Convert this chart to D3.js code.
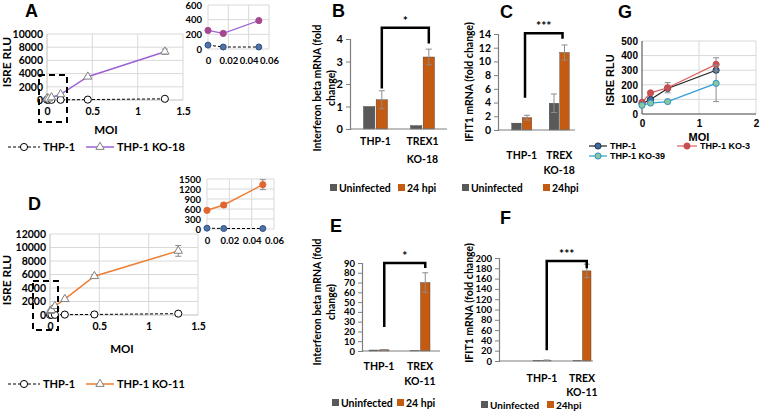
<!DOCTYPE html>
<html><head><meta charset="utf-8">
<script src="https://cdn.jsdelivr.net/npm/d3@7"></script>
<style>body{margin:0;background:#fff}svg{display:block}</style>
</head><body><svg id="c" width="760" height="411"></svg>
<script>
// ---------------- DATA ----------------
const moi = [0, 0.015, 0.05, 0.15, 0.45, 1.3];
const moiInset = [0, 0.015, 0.05];
const xTicksMain = [0, 0.5, 1, 1.5];
const xTicksInset = [0, 0.02, 0.04, 0.06];

// Panel A
const aTHP1 = [50, 25, 25, 30, 60, 180];
const aKO18 = [250, 215, 390, 870, 3530, 7320];
const aKO18Err = [0, 0, 0, 0, 150, 400];
const aInsetTHP1 = [53, 27, 27];
const aInsetKO18 = [253, 213, 387];
const aYTicks = [0, 2000, 4000, 6000, 8000, 10000];
const aInsetYTicks = [0, 200, 400, 600];

// Panel D
const dTHP1 = [30, 20, 20, 60, 80, 200];
const dKO11 = [560, 720, 1330, 2350, 5750, 9500];
const dKO11Err = [0, 60, 150, 0, 250, 800];
const dInsetTHP1 = [25, 15, 15];
const dInsetKO11 = [560, 720, 1330];
const dInsetKO11Err = [0, 60, 150];
const dYTicks = [0, 2000, 4000, 6000, 8000, 10000, 12000];
const dInsetYTicks = [0, 300, 600, 900, 1200, 1500];

// Bar panels
const barKeys = ["Uninfected", "24 hpi"];
const barKeysC = ["Uninfected", "24hpi"];
const groups18 = ["THP-1", "TREX1 KO-18"];
const groups18C = ["THP-1", "TREX KO-18"];
const groups11 = ["THP-1", "TREX KO-11"];
const bVals = [[1.0, 1.3], [0.15, 3.2]];
const bErrs = [[0, 0.4], [0, 0.35]];
const cVals = [[1.0, 1.8], [3.9, 11.3]];
const cErrs = [[0, 0.35], [1.35, 1.1]];
const eVals = [[1.0, 1.2], [0.3, 70]];
const eErrs = [[0, 0.3], [0, 10]];
const fVals = [[1.0, 1.5], [0.8, 175]];
const fErrs = [[0, 0.3], [0, 13]];
const bTicks = [0, 1, 2, 3, 4];
const cTicks = [0, 2, 4, 6, 8, 10, 12, 14];
const eTicks = [0, 10, 20, 30, 40, 50, 60, 70, 80, 90];
const fTicks = [0, 20, 40, 60, 80, 100, 120, 140, 160, 180, 200];

// Panel G
const moiG = [0, 0.15, 0.45, 1.3];
const gTHP1 = [70, 100, 175, 300];
const gKO3 = [80, 145, 180, 340];
const gKO3Err = [0, 0, 35, 45];
const gKO39 = [60, 75, 85, 210];
const gKO39Err = [0, 0, 0, 125];
const gYTicks = [0, 100, 200, 300, 400, 500];
const gXTicks = [0, 1, 2];

// ---------------- DRAWING ----------------
const svg = d3.select("#c");
const FONT = "Lato, 'Liberation Sans', Arial, sans-serif";
const ARIAL = "'Liberation Sans', Arial, sans-serif";
const GRAY = "#595959", ORANGE = "#c55a11";

function txt(g, x, y, s, o = {}) {
  return g.append("text").attr("x", x).attr("y", y).text(s)
    .attr("font-size", o.size || 11).attr("text-anchor", o.anchor || "start")
    .attr("font-weight", o.weight || "bold").attr("fill", o.fill || "#000")
    .attr("font-family", o.family || FONT);
}
function vtxt(g, x, cy, s, o = {}) {
  return g.append("text").attr("transform", `translate(${x},${cy}) rotate(-90)`)
    .attr("text-anchor", "middle").attr("dy", "0.35em").text(s)
    .attr("font-size", o.size || 11).attr("font-weight", o.weight || "bold")
    .attr("font-family", o.family || FONT).attr("fill", "#000");
}

function lineChart(cfg) {
  const g = svg.append("g");
  const x = d3.scaleLinear().domain(cfg.xd).range(cfg.xr);
  const y = d3.scaleLinear().domain(cfg.yd).range(cfg.yr);
  g.selectAll(null).data(cfg.yticks.filter(t => t > 0)).join("line")
    .attr("x1", cfg.xr[0]).attr("x2", cfg.xr[1]).attr("y1", d => y(d)).attr("y2", d => y(d))
    .attr("stroke", "#d9d9d9").attr("stroke-width", 1);
  g.selectAll(null).data(cfg.xticks.filter(t => t > 0)).join("line")
    .attr("x1", d => x(d)).attr("x2", d => x(d)).attr("y1", cfg.yr[0]).attr("y2", cfg.yr[1])
    .attr("stroke", "#d9d9d9").attr("stroke-width", 1);
  g.append("line").attr("x1", cfg.xr[0]).attr("x2", cfg.xr[0]).attr("y1", cfg.yr[0]).attr("y2", cfg.yr[1])
    .attr("stroke", cfg.axisColor || "#bfbfbf").attr("stroke-width", 1);
  g.append("line").attr("x1", cfg.xr[0]).attr("x2", cfg.xr[1]).attr("y1", cfg.yr[0]).attr("y2", cfg.yr[0])
    .attr("stroke", cfg.axisColor || "#bfbfbf").attr("stroke-width", 1);
  const ya = d3.axisLeft(y).tickValues(cfg.yticks).tickSize(0).tickPadding(cfg.yPad || 4).tickFormat(d3.format("d"));
  const yg = g.append("g").attr("transform", `translate(${cfg.xr[0]},0)`).call(ya);
  yg.select(".domain").remove();
  yg.selectAll("text").attr("font-size", cfg.fs).attr("font-weight", "bold").attr("font-family", cfg.family || FONT).attr("fill", "#000");
  const xa = d3.axisBottom(x).tickValues(cfg.xticks).tickSize(0).tickPadding(cfg.xPad || 6).tickFormat(d => d === 0 ? "0" : d3.format("")(d));
  const xg = g.append("g").attr("transform", `translate(0,${cfg.yr[0]})`).call(xa);
  xg.select(".domain").remove();
  xg.selectAll("text").attr("font-size", cfg.fs).attr("font-weight", "bold").attr("font-family", cfg.family || FONT).attr("fill", "#000");
  for (const s of cfg.series) {
    const pts = s.x.map((xv, i) => ({ x: xv, y: s.y[i], e: s.err ? s.err[i] : 0 }));
    const eb = pts.filter(p => p.e > 0);
    g.selectAll(null).data(eb).join("line")
      .attr("x1", p => x(p.x)).attr("x2", p => x(p.x)).attr("y1", p => y(p.y - p.e)).attr("y2", p => y(p.y + p.e))
      .attr("stroke", "#8c8c8c").attr("stroke-width", 1);
    for (const sg of [-1, 1]) {
      g.selectAll(null).data(eb).join("line")
        .attr("x1", p => x(p.x) - 3).attr("x2", p => x(p.x) + 3).attr("y1", p => y(p.y + sg * p.e)).attr("y2", p => y(p.y + sg * p.e))
        .attr("stroke", "#8c8c8c").attr("stroke-width", 1);
    }
    g.append("path").datum(pts).attr("d", d3.line().x(p => x(p.x)).y(p => y(p.y)))
      .attr("fill", "none").attr("stroke", s.stroke).attr("stroke-width", s.sw || 1.5)
      .attr("stroke-dasharray", s.dash || null);
    g.selectAll(null).data(pts).join("path")
      .attr("transform", p => `translate(${x(p.x)},${y(p.y)})`)
      .attr("d", d3.symbol().type(s.symbol || d3.symbolCircle).size(s.size || 30))
      .attr("fill", s.fill).attr("stroke", s.mstroke).attr("stroke-width", s.msw || 1);
  }
  return { g, x, y };
}

function barChart(cfg) {
  const g = svg.append("g");
  const y = d3.scaleLinear().domain(cfg.yd).range(cfg.yr);
  const x0 = d3.scaleBand().domain(cfg.groups).range(cfg.band);
  const bw = x0.bandwidth();
  const x1 = d3.scaleBand().domain(cfg.keys).range([bw / 2 - cfg.half, bw / 2 + cfg.half]).paddingInner(0.1);
  const data = cfg.groups.map((gr, i) => cfg.keys.map((k, j) => ({ gr, k, j, v: cfg.vals[i][j], e: cfg.errs[i][j] })));
  const flat = data.flat();
  const color = d3.scaleOrdinal().domain(cfg.keys).range([GRAY, ORANGE]);
  const ya = d3.axisLeft(y).tickValues(cfg.ticks).tickSize(4).tickPadding(3).tickFormat(d3.format("d"));
  const yg = g.append("g").attr("transform", `translate(${cfg.axisX},0)`).call(ya);
  yg.select(".domain").attr("stroke", "#7f7f7f").attr("stroke-width", 1.2);
  yg.selectAll(".tick line").attr("stroke", "#7f7f7f");
  yg.selectAll("text").attr("font-size", cfg.fs || 10).attr("font-weight", "bold").attr("font-family", FONT).attr("fill", "#000");
  g.selectAll(null).data(flat).join("rect")
    .attr("x", d => x0(d.gr) + x1(d.k)).attr("width", x1.bandwidth())
    .attr("y", d => y(d.v)).attr("height", d => y(0) - y(d.v))
    .attr("fill", d => color(d.k)).attr("stroke", "#3a3a3a").attr("stroke-width", 0.4);
  g.append("line").attr("x1", cfg.axisX).attr("x2", cfg.axisEnd).attr("y1", y(0)).attr("y2", y(0))
    .attr("stroke", "#7f7f7f").attr("stroke-width", 1.2);
  const cx = d => x0(d.gr) + x1(d.k) + x1.bandwidth() / 2;
  const eb = flat.filter(d => d.e > 0);
  g.selectAll(null).data(eb).join("line").attr("x1", cx).attr("x2", cx)
    .attr("y1", d => y(d.v - d.e)).attr("y2", d => y(d.v + d.e)).attr("stroke", "#8c8c8c").attr("stroke-width", 1);
  for (const sg of [-1, 1]) {
    g.selectAll(null).data(eb).join("line").attr("x1", d => cx(d) - 3).attr("x2", d => cx(d) + 3)
      .attr("y1", d => y(d.v + sg * d.e)).attr("y2", d => y(d.v + sg * d.e)).attr("stroke", "#8c8c8c").attr("stroke-width", 1);
  }
  const lx = cx(data[0][1]) + (cfg.brDx || 0), rx = cx(data[1][1]) + (cfg.brDx || 0);
  const br = cfg.bracket;
  g.append("path").attr("d", `M${lx},${y(br.l)}V${y(br.top)}H${rx}V${y(br.r)}`)
    .attr("fill", "none").attr("stroke", "#000").attr("stroke-width", 2.5);
  txt(g, (lx + rx) / 2, y(br.top) - 3, cfg.stars, { anchor: "middle", size: 12 });
  cfg.groups.forEach(gr => {
    gr.split(" ").forEach((line, i) => txt(g, x0(gr) + bw / 2, cfg.labelY[i] + 4, line, { anchor: "middle", size: 10.5 }));
  });
  cfg.keys.forEach((k, i) => {
    g.append("rect").attr("x", cfg.legendX[i]).attr("y", cfg.legendY - 4).attr("width", 7).attr("height", 7).attr("fill", color(k));
    txt(g, cfg.legendX[i] + 9, cfg.legendY + 4, k, { size: cfg.legFs || 10.5 });
  });
  cfg.ylab.lines.forEach((l, i) => vtxt(g, cfg.ylab.xs[i], cfg.ylab.cy, l, { size: 10.5 }));
  txt(g, cfg.letter[1], cfg.letter[2], cfg.letter[0], { size: 18, family: ARIAL });
}

function dashedBox(x0, y0, x1, y1) {
  svg.append("rect").attr("x", x0).attr("y", y0).attr("width", x1 - x0).attr("height", y1 - y0)
    .attr("fill", "none").attr("stroke", "#000").attr("stroke-width", 2).attr("stroke-dasharray", "6,4");
}

function lineLegend(items, y) {
  const g = svg.append("g");
  items.forEach(it => {
    g.append("line").attr("x1", it.x0).attr("x2", it.x1).attr("y1", y).attr("y2", y)
      .attr("stroke", it.stroke).attr("stroke-width", it.sw || 1.5).attr("stroke-dasharray", it.dash || null);
    g.append("path").attr("transform", `translate(${(it.x0 + it.x1) / 2},${y})`)
      .attr("d", d3.symbol().type(it.symbol || d3.symbolCircle).size(it.size || 30))
      .attr("fill", it.fill).attr("stroke", it.mstroke).attr("stroke-width", 1);
    txt(g, it.x1 + 3, y + (it.fs || 11) * 0.36, it.label, { size: it.fs || 11, family: it.family || FONT });
  });
}

// ----- Panel A -----
txt(svg, 25, 17, "A", { size: 18, family: ARIAL });
lineChart({
  xr: [47, 183], yr: [100, 34], xd: [0, 1.5], yd: [0, 10000], yticks: aYTicks, xticks: xTicksMain, fs: 10.5, xPad: 8,
  series: [
    { x: moi, y: aTHP1, stroke: "#000", sw: 1, dash: "3,2", fill: "#fff", mstroke: "#000", size: 40 },
    { x: moi, y: aKO18, err: aKO18Err, stroke: "#9e61d6", sw: 1.5, fill: "#fff", mstroke: "#808080", symbol: d3.symbolTriangle, size: 30 }
  ]
});
dashedBox(39, 75, 67, 122);
vtxt(svg, 7, 62, "ISRE RLU", { size: 12 });
txt(svg, 106, 134, "MOI", { anchor: "middle", size: 11.5 });
lineLegend([
  { x0: 8, x1: 40, stroke: "#000", sw: 1, dash: "3,2", fill: "#fff", mstroke: "#000", size: 40, label: "THP-1" },
  { x0: 86, x1: 114, stroke: "#9e61d6", fill: "#fff", mstroke: "#808080", symbol: d3.symbolTriangle, label: "THP-1 KO-18" }
], 147);
lineChart({
  xr: [208, 269], yr: [49, 5], xd: [0, 0.06], yd: [0, 600], yticks: aInsetYTicks, xticks: xTicksInset, fs: 9.5, xPad: 8, yPad: 6,
  axisColor: "#d9d9d9",
  series: [
    { x: moiInset, y: aInsetTHP1, stroke: "#000", sw: 1, dash: "3,2", fill: "#4f73a8", mstroke: "#2f4f7f", size: 28 },
    { x: moiInset, y: aInsetKO18, stroke: "#9e61d6", sw: 1.2, fill: "#a5488f", mstroke: "#a5488f", size: 30 }
  ]
});

// ----- Panel D -----
txt(svg, 28, 210, "D", { size: 18, family: ARIAL });
lineChart({
  xr: [50, 198], yr: [315, 234], xd: [0, 1.5], yd: [0, 12000], yticks: dYTicks, xticks: xTicksMain, fs: 10.5, xPad: 8,
  series: [
    { x: moi, y: dTHP1, stroke: "#000", sw: 1, dash: "3,2", fill: "#fff", mstroke: "#000", size: 40 },
    { x: moi, y: dKO11, err: dKO11Err, stroke: "#ed7d31", sw: 1.5, fill: "#fff", mstroke: "#808080", symbol: d3.symbolTriangle, size: 30 }
  ]
});
dashedBox(33, 281, 58, 330);
vtxt(svg, 7, 280, "ISRE RLU", { size: 12 });
txt(svg, 122, 353, "MOI", { anchor: "middle", size: 11.5 });
lineLegend([
  { x0: 8, x1: 40, stroke: "#000", sw: 1, dash: "3,2", fill: "#fff", mstroke: "#000", size: 40, label: "THP-1" },
  { x0: 86, x1: 114, stroke: "#ed7d31", fill: "#fff", mstroke: "#808080", symbol: d3.symbolTriangle, label: "THP-1 KO-11" }
], 384);
lineChart({
  xr: [207, 274], yr: [229, 179], xd: [0, 0.06], yd: [0, 1500], yticks: dInsetYTicks, xticks: xTicksInset, fs: 9.5, xPad: 8, yPad: 6,
  axisColor: "#d9d9d9",
  series: [
    { x: moiInset, y: dInsetTHP1, stroke: "#000", sw: 1, dash: "3,2", fill: "#4f73a8", mstroke: "#2f4f7f", size: 28 },
    { x: moiInset, y: dInsetKO11, err: dInsetKO11Err, stroke: "#ed7d31", sw: 1.5, fill: "#e2652f", mstroke: "#e2652f", size: 30 }
  ]
});

// ----- Bar panels -----
barChart({
  axisX: 350, axisEnd: 447, yr: [129, 39], yd: [0, 4], ticks: bTicks, band: [352, 446], half: 12, fs: 11,
  groups: groups18, keys: barKeys, vals: bVals, errs: bErrs, bracket: { top: 4.5, l: 1.8, r: 3.8 }, stars: "*",
  labelY: [141, 159], legendX: [330, 398], legendY: 188,
  ylab: { lines: ["Interferon beta mRNA (fold", "change)"], xs: [317, 331], cy: 88 }, letter: ["B", 332, 17]
});
barChart({
  axisX: 498, axisEnd: 575, yr: [130, 34], yd: [0, 14], ticks: cTicks, band: [503, 578], half: 10, fs: 10.5,
  groups: groups18C, keys: barKeysC, vals: cVals, errs: cErrs, bracket: { top: 14.1, l: 4.7, r: 13.3 }, stars: "***", brDx: -2,
  labelY: [155, 170], legendX: [462, 543], legendY: 188,
  ylab: { lines: ["IFIT1 mRNA (fold change)"], xs: [469], cy: 82 }, letter: ["C", 500, 18]
});
barChart({
  axisX: 362, axisEnd: 440, yr: [351, 263], yd: [0, 90], ticks: eTicks, band: [358.5, 440.5], half: 10, fs: 9.5,
  groups: groups11, keys: barKeys, vals: eVals, errs: eErrs, bracket: { top: 90, l: 24.5, r: 85 }, stars: "*",
  labelY: [366, 381], legendX: [332, 397], legendY: 403,
  ylab: { lines: ["Interferon beta mRNA (fold", "change)"], xs: [317, 331], cy: 302 }, letter: ["E", 330, 232]
});
barChart({
  axisX: 499, axisEnd: 593, yr: [361, 258], yd: [0, 200], ticks: fTicks, band: [522, 602], half: 9, fs: 9.5, legFs: 10,
  groups: groups11, keys: barKeysC, vals: fVals, errs: fErrs, bracket: { top: 194, l: 21, r: 180 }, stars: "***",
  labelY: [378, 392], legendX: [481, 547], legendY: 405,
  ylab: { lines: ["IFIT1 mRNA (fold change)"], xs: [469], cy: 303 }, letter: ["F", 500, 224]
});

// ----- Panel G -----
txt(svg, 618, 18, "G", { size: 18, family: ARIAL });
lineChart({
  xr: [642, 756], yr: [114, 41], xd: [0, 2], yd: [0, 500], yticks: gYTicks, xticks: gXTicks, fs: 10, xPad: 6, family: ARIAL,
  axisColor: "#404040",
  series: [
    { x: moiG, y: gTHP1, stroke: "#222", sw: 1.2, fill: "#3e6a9e", mstroke: "#1f3550", size: 30 },
    { x: moiG, y: gKO3, err: gKO3Err, stroke: "#e06060", sw: 1.2, fill: "#c84f4f", mstroke: "#c84f4f", size: 30 },
    { x: moiG, y: gKO39, err: gKO39Err, stroke: "#2f9fd8", sw: 1.2, fill: "#86c9a0", mstroke: "#2f8fc0", size: 30 }
  ]
});
vtxt(svg, 610, 80, "ISRE RLU", { size: 11, family: ARIAL });
txt(svg, 699, 141, "MOI", { anchor: "middle", size: 11, family: ARIAL });
lineLegend([
  { x0: 589, x1: 607, stroke: "#222", sw: 1.2, fill: "#3e6a9e", mstroke: "#1f3550", label: "THP-1", fs: 9, family: ARIAL },
  { x0: 677, x1: 697, stroke: "#e06060", sw: 1.2, fill: "#c84f4f", mstroke: "#c84f4f", label: "THP-1 KO-3", fs: 9, family: ARIAL }
], 146);
lineLegend([
  { x0: 589, x1: 607, stroke: "#2f9fd8", sw: 1.2, fill: "#86c9a0", mstroke: "#2f8fc0", label: "THP-1 KO-39", fs: 9, family: ARIAL }
], 156);
</script></body></html>
